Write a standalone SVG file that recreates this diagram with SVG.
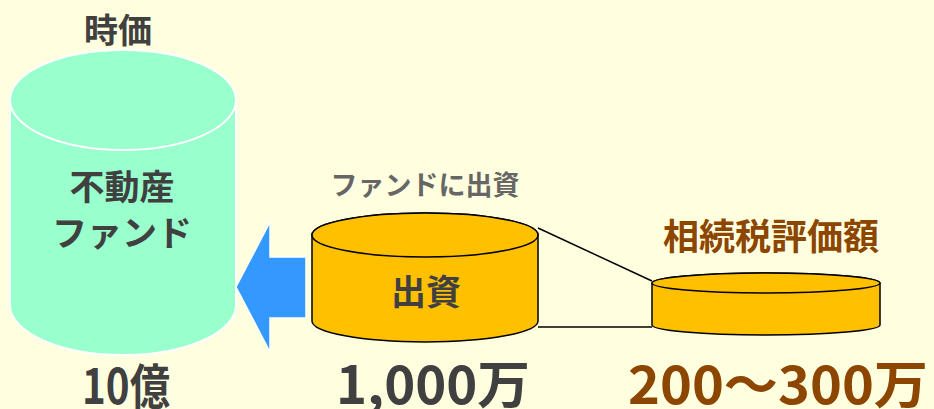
<svg xmlns="http://www.w3.org/2000/svg" width="934" height="409" viewBox="0 0 934 409">
<style>
.t{font-family:"Noto Sans CJK JP","Liberation Sans",sans-serif;font-weight:bold;fill:#404040}
.gold{fill:#FFC000;stroke:#000;stroke-width:1.5}
.mint{fill:#99FFCC;stroke:#FFFFFF;stroke-width:2}
.ln{stroke:#000;stroke-width:1.5;fill:none}
</style>
<rect width="934" height="409" fill="#FFFFDF"/>
<g id="connectors">
<polygon points="306,257 270,257 270,222 236,287 270,352 270,318 306,318" fill="#3399FF" stroke="#FFFFFF" stroke-width="1.5"/>
<line class="ln" x1="538" y1="228" x2="652" y2="281"/>
<line class="ln" x1="538" y1="327" x2="652" y2="327"/>
</g>
<g id="fund">
<path class="mint" d="M10,100 A113,50 0 0 1 236,100 L236,305 A113,50 0 0 1 10,305 Z"/>
<ellipse class="mint" cx="123" cy="100" rx="113" ry="50"/>
<text class="t" x="118" y="43" font-size="34" text-anchor="middle">時価</text>
<text class="t" x="122" y="200" font-size="35" text-anchor="middle">不動産</text>
<text class="t" x="122" y="246" font-size="35" text-anchor="middle">ファンド</text>
<text class="t" x="82" y="404" font-size="48" textLength="88" lengthAdjust="spacingAndGlyphs">10億</text>
</g>
<g id="investment">
<path class="gold" d="M312,235 A113,22 0 0 1 538,235 L538,321 A113,21 0 0 1 312,321 Z"/>
<ellipse class="gold" cx="425" cy="235" rx="113" ry="22"/>
<text class="t" x="425" y="195" font-size="27" text-anchor="middle" style="fill:#666666">ファンドに出資</text>
<text class="t" x="426" y="305" font-size="35" text-anchor="middle">出資</text>
<text class="t" x="336" y="404" font-size="52" textLength="194" lengthAdjust="spacingAndGlyphs">1,000万</text>
</g>
<g id="valuation">
<path class="gold" d="M652,283 A114,10 0 0 1 880,283 L880,325 A114,10 0 0 1 652,325 Z"/>
<ellipse class="gold" cx="766" cy="283" rx="114" ry="10"/>
<text class="t" x="771" y="250" font-size="36" text-anchor="middle" style="fill:#8C4600">相続税評価額</text>
<text class="t" x="628" y="404" font-size="52" textLength="300" lengthAdjust="spacingAndGlyphs" style="fill:#8C4600">200～300万</text>
</g>
</svg>
